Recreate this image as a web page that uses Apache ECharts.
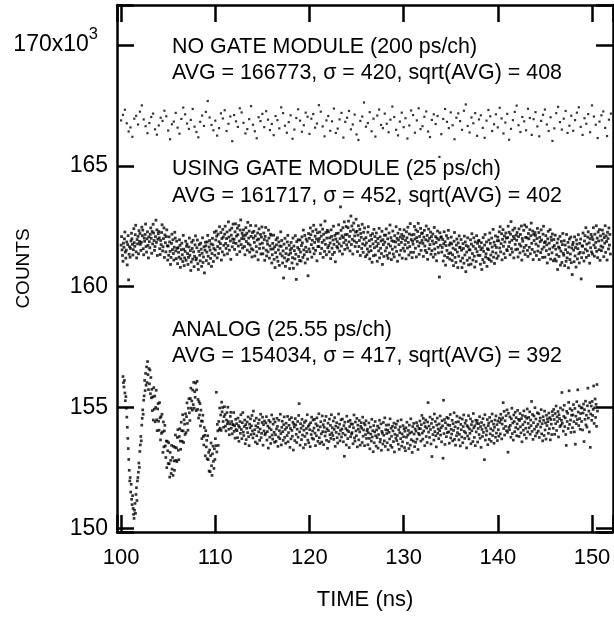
<!DOCTYPE html>
<html><head><meta charset="utf-8">
<script src="https://cdn.jsdelivr.net/npm/echarts@6/dist/echarts.min.js"></script>
<style>html,body{margin:0;padding:0;background:#fff}#c{width:614px;height:617px}</style>
</head><body><div id="c"></div>
<script>
// Values are counts / 10 (tens of counts); time in ns
const noGateStartNs = 100.0, noGateStepNs = 0.2;
const noGateCounts10 = [
16688,16711,16732,16676,16642,16659,16620,16695,16707,16671,16724,16750,16692,16664,16635,16677,16702,16716,16651,16629,
16667,16699,16686,16728,16705,16646,16610,16672,16683,16719,16658,16633,16694,16741,16713,16675,16653,16690,16735,16662,
16640,16618,16682,16708,16665,16723,16768,16700,16669,16647,16687,16625,16656,16717,16696,16730,16644,16674,16704,16602,
16710,16684,16661,16738,16721,16678,16634,16652,16693,16747,16670,16643,16614,16701,16685,16715,16660,16726,16691,16648,
16673,16627,16706,16689,16655,16742,16718,16666,16637,16681,16709,16612,16650,16698,16734,16687,16641,16668,16720,16703,
16632,16695,16714,16658,16675,16751,16724,16663,16622,16688,16706,16645,16684,16737,16636,16654,16692,16719,16617,16682,
16699,16727,16651,16671,16712,16630,16607,16686,16704,16762,16662,16677,16722,16643,16695,16621,16708,16733,16669,16656,
16716,16674,16639,16691,16745,16702,16649,16626,16683,16720,16660,16697,16613,16667,16729,16710,16637,16688,16738,16652,
16664,16703,16725,16642,16619,16690,16713,16673,16706,16537,16631,16694,16735,16682,16656,16721,16668,16610,16699,16717,
16685,16649,16728,16754,16665,16638,16700,16676,16718,16624,16692,16709,16657,16616,16687,16731,16705,16644,16672,16713,
16659,16740,16696,16634,16679,16715,16608,16653,16689,16723,16749,16668,16640,16702,16684,16647,16736,16698,16628,16693,
16722,16663,16622,16686,16711,16733,16671,16644,16701,16603,16655,16718,16744,16681,16650,16695,16727,16636,16666,16707,
16645,16689,16720,16742,16661,16628,16697,16674,16714,16639,16750,16704,16670,16615,16683,16709,16725,16657,16623,16691,16716
];

const gateStartNs = 100.0, gateStepNs = 0.05;
const gateCounts10 = [
16172,16207,16152,16129,16105,16180,16163,16198,16226,16143,16118,16151,16185,16090,16174,16211,16028,16134,16165,16122,
16158,16189,16221,16198,16175,16131,16153,16240,16182,16167,16215,16254,16144,16119,16195,16177,16208,16136,16232,16187,
16220,16175,16150,16184,16246,16211,16234,16157,16132,16201,16188,16216,16259,16166,16143,16198,16227,16171,16119,16206,
16186,16161,16217,16243,16200,16138,16228,16177,16258,16222,16191,16150,16166,16207,16275,16183,16235,16129,16196,16219,
16228,16202,16157,16133,16191,16174,16224,16256,16148,16165,16199,16243,16121,16214,16182,16144,16207,16235,16169,16110,
16168,16130,16206,16185,16146,16092,16121,16179,16217,16153,16194,16137,16110,16163,16225,16201,16148,16116,16188,16159,
16095,16161,16142,16122,16194,16171,16080,16115,16153,16180,16132,16104,16212,16155,16087,16119,16146,16188,16109,16167,
16176,16137,16092,16121,16164,16201,16130,16149,16067,16102,16184,16158,16114,16192,16144,16083,16125,16173,16210,16111,
16118,16161,16193,16095,16071,16146,16174,16130,16107,16180,16155,16084,16138,16202,16100,16123,16165,16057,16151,16184,
16169,16108,16143,16185,16212,16126,16095,16164,16191,16151,16117,16177,16084,16137,16200,16173,16104,16158,16225,16130,
16152,16193,16230,16209,16119,16166,16217,16137,16186,16248,16158,16178,16224,16110,16199,16144,16237,16205,16171,16131,
16217,16250,16179,16158,16199,16226,16136,16170,16268,16205,16151,16234,16189,16113,16213,16242,16165,16197,16259,16182,
16196,16154,16227,16260,16179,16209,16133,16242,16215,16168,16253,16189,16145,16234,16276,16174,16199,16221,16160,16211,
16235,16198,16166,16132,16213,16244,16187,16221,16151,16266,16178,16201,16230,16143,16172,16253,16208,16157,16123,16224,
16152,16201,16229,16183,16127,16210,16252,16166,16144,16193,16222,16111,16197,16239,16158,16176,16216,16135,16205,16247,
16180,16136,16160,16222,16195,16109,16208,16245,16151,16127,16189,16176,16144,16234,16201,16118,16169,16217,16155,16213,
16098,16132,16179,16156,16213,16113,16165,16079,16141,16194,16173,16122,16202,16105,16152,16185,16088,16168,16136,16227,
16167,16191,16127,16098,16148,16036,16176,16119,16200,16084,16137,16159,16106,16185,16212,16113,16132,16171,16075,16152,
16139,16183,16159,16098,16120,16201,16076,16168,16149,16115,16211,16134,16030,16186,16093,16162,16194,16125,16154,16108,
16193,16143,16106,16170,16206,16181,16121,16234,16152,16132,16212,16098,16163,16197,16145,16188,16114,16045,16220,16156,
16200,16144,16243,16215,16174,16122,16192,16229,16159,16254,16136,16183,16209,16150,16236,16197,16107,16223,16166,16188,
16166,16199,16226,16137,16255,16209,16158,16183,16238,16121,16217,16192,16146,16271,16175,16224,16132,16201,16233,16161,
16227,16170,16144,16202,16181,16116,16235,16208,16159,16133,16193,16250,16175,16142,16212,16103,16197,16220,16166,16186,
16160,16221,16256,16177,16147,16199,16330,16233,16168,16210,16135,16244,16203,16182,16268,16154,16215,16192,16249,16173,
16216,16160,16244,16271,16185,16208,16148,16229,16292,16174,16251,16196,16135,16235,16263,16189,16210,16166,16226,16279,
16183,16229,16145,16213,16252,16166,16191,16237,16129,16220,16204,16158,16258,16177,16142,16225,16196,16243,16171,16124,
16203,16181,16132,16156,16225,16248,16144,16190,16115,16167,16212,16149,16196,16101,16219,16177,16128,16237,16161,16207,
16131,16187,16222,16167,16105,16199,16178,16148,16241,16119,16206,16159,16189,16137,16229,16092,16194,16174,16125,16213,
16184,16148,16213,16239,16161,16129,16198,16117,16176,16222,16139,16255,16168,16203,16112,16190,16155,16230,16135,16187,
16123,16211,16164,16185,16248,16146,16200,16105,16221,16193,16174,16131,16237,16205,16150,16183,16216,16118,16198,16159,
16209,16235,16147,16174,16191,16115,16227,16202,16160,16246,16183,16131,16218,16166,16261,16142,16195,16214,16120,16188,
16176,16142,16216,16249,16197,16159,16235,16123,16203,16187,16228,16262,16168,16134,16208,16181,16241,16150,16220,16191,
16222,16179,16125,16205,16233,16168,16150,16194,16251,16141,16212,16113,16189,16238,16157,16200,16174,16226,16134,16207,
16149,16189,16218,16122,16177,16245,16156,16134,16207,16183,16107,16200,16230,16163,16140,16194,16040,16223,16171,16204,
16206,16143,16162,16195,16106,16177,16227,16128,16186,16089,16170,16211,16150,16121,16200,16233,16137,16172,16114,16181,
16140,16205,16177,16108,16132,16159,16087,16188,16224,16121,16153,16100,16172,16197,16143,16079,16181,16126,16210,16162,
16163,16106,16195,16151,16079,16118,16178,16158,16097,16209,16131,16185,16062,16170,16143,16109,16202,16166,16090,16153,
16119,16152,16194,16093,16176,16219,16137,16110,16167,16202,16126,16081,16185,16157,16104,16211,16145,16179,16130,16189,
16191,16166,16129,16093,16153,16182,16071,16160,16112,16203,16146,16100,16172,16216,16123,16136,16185,16084,16157,16117,
16153,16193,16112,16222,16179,16131,16105,16201,16164,16144,16237,16122,16184,16096,16171,16210,16139,16162,16117,16190,
16205,16127,16190,16227,16160,16248,16144,16178,16219,16111,16196,16236,16167,16136,16210,16185,16120,16222,16201,16153,
16149,16203,16250,16166,16225,16184,16132,16217,16269,16157,16192,16143,16234,16208,16119,16199,16242,16175,16153,16213,
16192,16224,16155,16123,16207,16239,16176,16140,16216,16168,16251,16110,16199,16188,16147,16233,16162,16255,16133,16204,
16171,16247,16202,16150,16125,16220,16198,16163,16236,16136,16211,16263,16179,16154,16230,16112,16216,16191,16143,16224,
16212,16176,16129,16199,16241,16147,16168,16224,16112,16204,16186,16141,16235,16193,16155,16121,16217,16250,16164,16182,
16122,16186,16211,16149,16173,16098,16198,16229,16133,16180,16156,16236,16114,16205,16192,16140,16218,16163,16107,16195,
16170,16114,16213,16155,16106,16132,16181,16071,16197,16164,16125,16159,16208,16089,16147,16187,16100,16174,16220,16138,
16130,16190,16087,16172,16153,16105,16216,16119,16141,16183,16078,16164,16197,16112,16135,16205,16099,16160,16050,16174,
16183,16151,16103,16206,16127,16162,16081,16193,16176,16115,16157,16215,16136,16098,16179,16142,16197,16032,16120,16168,
16168,16222,16140,16106,16189,16211,16155,16244,16121,16176,16148,16205,16227,16129,16181,16097,16198,16161,16216,16144,
16206,16135,16195,16244,16172,16126,16217,16161,16183,16252,16146,16201,16120,16226,16189,16153,16236,16109,16210,16168,
16149,16192,16234,16163,16218,16124,16203,16180,16252,16142,16210,16187,16110,16225,16199,16156,16243,16172,16216,16135
];

const analogStartNs = 100.2, analogStepNs = 0.0511;
const analogCounts10 = [
15628,15603,15585,15612,15560,15528,15545,15497,15460,15418,15372,15330,15285,15240,15196,15210,
15150,15182,15120,15098,15135,15082,15058,15041,15075,15103,15062,15140,15168,15115,15196,15210,
15232,15270,15252,15318,15345,15380,15362,15427,15455,15490,15472,15530,
15548,15612,15570,15641,15592,15668,15603,15690,15636,15574,15661,15598,15655,15557,15624,15540,
15575,15487,15544,15448,15582,15493,15547,15441,15500,15571,15449,15404,15494,15516,15443,15406,15520,15457,15366,15462,15393,15472,15399,15314,15440,
15337,15403,15426,15341,15293,15361,15251,15360,15321,15268,15354,15267,15212,15314,15281,15227,15343,15245,15293,15219,
15339,15279,15240,15335,15386,15281,15333,15276,15376,15408,15323,15284,15380,15412,15361,15327,15439,15404,15360,15470,15403,15355,15449,15431,15388,
15474,15396,15462,15519,15434,15406,15497,15536,15478,15446,15537,15580,15497,15527,15489,
15572,15512,15604,15497,15565,15542,15601,15487,15573,15608,15492,15533,15456,15524,15469,15516,
15424,15489,15444,15371,15443,15468,15380,15345,15417,15385,15300,15404,15337,15364,15288,15383,15284,15314,15237,
15324,15234,15301,15353,15259,15219,15308,15340,15277,15248,15329,
15285,15371,15342,15563,15316,15430,15403,15343,15442,15408,15498,15414,15469,15405,15522,
15482,15500,15442,15418,15462,15503,15471,15423,15403,15448,15479,15433,15501,15442,15410,15387,15432,15463,15480,15414,15442,15391,15430,15428,15479,15401,15424,15373,15451,15409,
15433,15404,15375,15456,15425,15360,15418,15442,15393,15470,15409,15371,15437,15479,15398,15384,15421,15448,15350,15429,
15367,15414,15440,15396,15461,15379,15342,15431,15416,15453,15388,15424,15467,15403,15374,15485,15391,15445,15408,15357,
15424,15456,15383,15350,15418,15434,15399,15449,15364,15411,15472,15375,15393,15438,15460,15344,15429,15403,15444,15387,
15393,15436,15462,15365,15400,15423,15332,15447,15415,15377,15440,15351,15408,15469,15386,15369,15431,15452,15397,15356,
15440,15387,15360,15411,15455,15422,15339,15378,15447,15404,15371,15472,15392,15345,15418,15443,15400,15364,15429,15461,
15376,15409,15352,15435,15417,15384,15463,15358,15396,15426,15450,15335,15413,15370,15458,15405,15381,15439,15324,15431,
15419,15363,15454,15428,15389,15355,15410,15442,15377,15467,15516,15399,15344,15433,15414,15367,15451,15386,15424,15333,
15406,15438,15380,15347,15445,15413,15393,15470,15365,15422,15354,15429,15408,15338,15437,15388,15460,15373,15403,15448,
15369,15415,15451,15394,15342,15432,15383,15457,15424,15360,15407,15474,15375,15351,15420,15441,15391,15357,15465,15400,
15429,15346,15418,15446,15382,15399,15463,15364,15412,15331,15435,15404,15359,15452,15387,15426,15372,15470,15395,15416,
15384,15444,15368,15409,15458,15339,15423,15397,15437,15375,15353,15417,15473,15390,15431,15362,15405,15449,15378,15411,
15452,15393,15358,15425,15298,15439,15386,15413,15345,15464,15406,15371,15442,15400,15334,15421,15447,15379,15432,15391,
15396,15431,15350,15416,15469,15374,15361,15440,15403,15383,15455,15337,15427,15410,15366,15446,15399,15344,15422,15437,
15414,15355,15460,15381,15407,15435,15342,15428,15388,15445,15372,15403,
15410,15346,15395,15436,15372,15329,15419,15390,15361,15451,15378,15404,15317,15425,15354,15399,15442,15383,15340,15407,
15375,15423,15332,15388,15415,15447,15357,15368,15432,15323,15401,15394,15349,15438,15385,15362,15457,15339,15408,15427,
15392,15354,15406,15325,15428,15397,15370,15453,15343,15414,15381,15335,15422,15403,15359,15435,15316,15389,15417,15373,
15431,15363,15384,15444,15348,15408,15327,15396,15420,15371,15449,15340,15391,15358,15425,15379,15412,15334,15402,15321,
15416,15377,15439,15352,15386,15405,15330,15427,15394,15344,15453,15367,15398,15314,15421,15361,15434,15390,15338,15411,
15356,15402,15437,15369,15424,15326,15393,15413,
15387,15444,15412,15361,15429,15467,15394,15369,15455,15403,15436,15342,15421,15448,15380,15415,15355,15440,15520,15398,
15423,15376,15460,15409,15349,15434,15297,15451,15388,15418,15365,15473,15400,15442,15383,15337,15427,15456,15393,15411,
15371,15432,15404,15465,15386,15416,15358,15445,15424,15290,15530,15392,15450,15347,15437,15413,15379,15459,15396,15428,
15455,15399,15352,15426,15471,15374,15410,15390,15447,15362,15433,15405,15478,15368,15420,15344,15439,15383,15464,15396,
15414,15441,15366,15389,15457,15341,15430,15408,15378,15452,15354,15421,15469,15401,15372,15435,15395,15446,15333,15425,
15382,15419,15466,15370,15411,15393,15453,15350,15429,15404,15442,15359,15475,15416,15376,15424,15342,15447,15399,15434,
15446,15357,15413,15433,15388,15462,15373,15421,15335,15438,15409,15380,15454,15397,15427,15284,15470,15365,15415,15386,
15403,15450,15346,15425,15436,15368,15459,15391,15412,15360,15443,15473,15384,15405,15431,15352,15418,15448,15377,15465,
15394,15429,15363,15444,15408,15381,15456,
15438,15391,15472,15449,15370,15431,15457,15520,15413,15484,15386,15445,15422,15466,15404,15490,15397,15315,15476,15419,
15408,15461,15426,15377,15453,15497,15392,15436,15365,15469,15442,15400,15480,15417,15458,15383,15432,15488,15411,15451,
15380,15446,15475,15420,15395,15454,15358,15467,15429,15406,15486,15387,15440,15463,15414,15373,15455,15494,15399,15434,
15459,15416,15482,15389,15448,15425,15525,15401,15471,15368,15437,15465,15410,15499,15382,15452,15421,15394,15478,15430,
15402,15474,15376,15443,15456,15419,15491,15391,15433,15362,15462,15447,15384,15485,15407,15436,15369,15468,15425,15453,
15441,15393,15477,15412,15458,15366,15450,15431,15388,15483,
15467,15414,15492,15450,15389,15475,15433,15506,15405,15461,15442,15483,15378,15470,15454,15421,15498,15427,15447,15562,
15435,15490,15402,15463,15509,15421,15457,15388,15343,15484,15442,15476,15413,15521,15569,15430,15495,15448,15397,15468,
15488,15416,15469,15512,15441,15399,15496,15348,15464,15433,15524,15450,15573,15481,15425,15507,15454,15410,15475,15499,
15442,15498,15407,15477,15514,15359,15491,15451,15526,15428,15468,15419,15507,15580,15456,15485,15399,15520,15335,15473,
15506,15447,15525,15467,15492,15589,15434,15499,15535,15459,15513,15422,15595,15485
];

const xTicks = [100, 110, 120, 130, 140, 150];
const yTicks = [150, 155, 160, 165, 170];
const annotationLines = [
  'NO GATE MODULE (200 ps/ch)',
  'AVG = 166773, \u03c3 = 420, sqrt(AVG) = 408',
  'USING GATE MODULE (25 ps/ch)',
  'AVG = 161717, \u03c3 = 452, sqrt(AVG) = 402',
  'ANALOG (25.55 ps/ch)',
  'AVG = 154034, \u03c3 = 417, sqrt(AVG) = 392'
];
const annotationY = [47, 73, 169, 196, 330, 356];

function toPoints(start, step, vals) {
  return vals.map((v, i) => [start + step * i, v / 100]);
}

const FONT = '"Liberation Sans", Arial, sans-serif';
const XMIN = 99.565, XMAX = 152.23, YMIN = 149.847, YMAX = 171.655;
const lineStyle = { color: '#000', width: 2.5 };

function isTick(v, arr) { return arr.some(t => Math.abs(t - v) < 1e-6); }

const chart = echarts.init(document.getElementById('c'), null, { renderer: 'canvas' });
const xBase = {
  type: 'value', min: XMIN, max: XMAX, splitNumber: 5, gridIndex: 0,
  axisLine: { show: true, onZero: false, lineStyle },
  axisTick: { show: true, inside: true, length: 17, lineStyle },
  splitLine: { show: false }
};
const yBase = {
  type: 'value', min: YMIN, max: YMAX, splitNumber: 5, gridIndex: 0,
  axisLine: { show: true, onZero: false, lineStyle },
  axisTick: { show: true, inside: true, length: 17, lineStyle },
  splitLine: { show: false }
};

const seriesDefs = [
  [noGateStartNs, noGateStepNs, noGateCounts10, 2.2],
  [gateStartNs, gateStepNs, gateCounts10, 2.8],
  [analogStartNs, analogStepNs, analogCounts10, 2.7]
];
const series = seriesDefs.map(([s, st, v, sz]) => ({
  type: 'scatter', xAxisIndex: 0, yAxisIndex: 0,
  data: toPoints(s, st, v), symbol: 'rect', symbolSize: sz,
  itemStyle: { color: '#000' }, silent: true, large: false
}));

chart.setOption({
  animation: false,
  backgroundColor: '#fff',
  grid: { left: 117, right: 1, top: 5, bottom: 85, containLabel: false, outerBoundsMode: 'none' },
  xAxis: [
    Object.assign({}, xBase, {
      position: 'bottom',
      axisLabel: { show: true, color: '#000', fontSize: 22, fontFamily: FONT, margin: 15,
        formatter: v => isTick(v, xTicks) ? String(Math.round(v)) : '' },
      name: 'TIME (ns)', nameLocation: 'middle', nameGap: 57, nameMoveOverlap: false,
      nameTextStyle: { color: '#000', fontSize: 22, fontFamily: FONT }
    }),
    Object.assign({}, xBase, { position: 'top', axisLabel: { show: false } })
  ],
  yAxis: [
    Object.assign({}, yBase, {
      position: 'left',
      axisLabel: { show: true, margin: 9,
        formatter: v => {
          if (!isTick(v, yTicks)) return '';
          const r = Math.round(v);
          return r === 170 ? '{b|170x10}{s|3}' : '{b|' + r + '}';
        },
        rich: {
          b: { fontSize: 23, fontFamily: FONT, color: '#000' },
          s: { fontSize: 16.5, fontFamily: FONT, color: '#000', padding: [0, 10, 22, 0] }
        }
      },
      name: 'COUNTS', nameLocation: 'middle', nameGap: 84, nameMoveOverlap: false,
      nameTextStyle: { color: '#000', fontSize: 19, fontFamily: FONT }
    }),
    Object.assign({}, yBase, { position: 'right', axisLabel: { show: false } })
  ],
  series,
  graphic: annotationLines.map((t, i) => ({
    type: 'text', x: 172, y: annotationY[i], silent: true,
    style: { text: t, fill: '#000', fontSize: 21.4, fontFamily: FONT,
      textAlign: 'left', textVerticalAlign: 'middle', align: 'left', verticalAlign: 'middle' }
  }))
});
</script></body></html>
